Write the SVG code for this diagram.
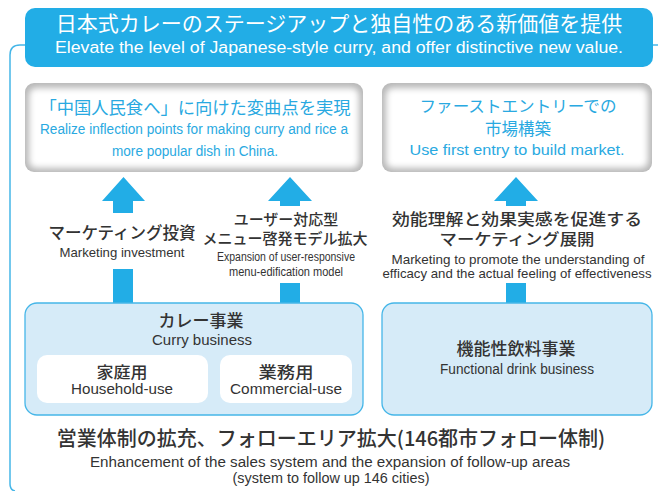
<svg xmlns="http://www.w3.org/2000/svg" width="658" height="491" viewBox="0 0 658 491">
<style>
.jp{font-family:"Noto Sans CJK JP","Noto Sans",sans-serif;}
.en{font-family:"Liberation Sans",Arial,sans-serif;}
.w{fill:#ffffff;}
.b{fill:#29a9e1;}
.d{fill:#333333;}
.m{font-weight:500;}
.arrow{fill:#22ade6;}
.biz{fill:#d6ebf8;stroke:#45b6e8;stroke-width:1.3;}
.sub{fill:#ffffff;}
.frame{fill:none;stroke:#45b6e8;stroke-width:1.5;}
</style>
<defs>
<filter id="soft" x="-5%" y="-10%" width="110%" height="120%">
<feGaussianBlur stdDeviation="3"/>
</filter>
</defs>
<rect width="658" height="491" fill="#ffffff"/>
<g id="connectors">
<path class="frame" d="M25,45 L20,45 Q10,45 10,55 L10,484 Q10,490 15,491"/>
<path class="frame" d="M653,45 L658,45"/>
<path class="arrow" d="M123.5,177 L145,201 L133,201 L133,213 L113,213 L113,201 L102,201 Z"/>
<rect class="arrow" x="113" y="269" width="20" height="35"/>
<path class="arrow" d="M290,177 L312,201 L300,201 L300,206 L280,206 L280,201 L268,201 Z"/>
<rect class="arrow" x="280" y="283" width="20" height="21"/>
<path class="arrow" d="M516,177 L538,201 L526,201 L526,206 L506,206 L506,201 L494,201 Z"/>
<rect class="arrow" x="506" y="283" width="20" height="21"/>
</g>
<g id="title">
<rect x="25" y="8" width="628" height="59" rx="10" fill="#22ade6"/>
<text class="jp w" x="339" y="31" font-size="21" text-anchor="middle">日本式カレーのステージアップと独自性のある新価値を提供</text>
<text class="en w" x="339" y="53" font-size="16" text-anchor="middle" textLength="568" lengthAdjust="spacingAndGlyphs">Elevate the level of Japanese-style curry, and offer distinctive new value.</text>
</g>
<g id="goal-china">
<rect x="25" y="83" width="338" height="89" rx="9" fill="#b8b8b8"/>
<rect x="29" y="88" width="330" height="80" rx="7" fill="#ffffff" filter="url(#soft)"/>
<text class="jp b" x="195" y="114" font-size="17.3" text-anchor="middle">「中国人民食へ」に向けた変曲点を実現</text>
<text class="en b" x="194" y="134" font-size="14" text-anchor="middle" textLength="308" lengthAdjust="spacingAndGlyphs">Realize inflection points for making curry and rice a</text>
<text class="en b" x="195" y="156" font-size="14" text-anchor="middle" textLength="166" lengthAdjust="spacingAndGlyphs">more popular dish in China.</text>
</g>
<g id="goal-market">
<rect x="382" y="83" width="270" height="89" rx="9" fill="#b8b8b8"/>
<rect x="386" y="88" width="262" height="80" rx="7" fill="#ffffff" filter="url(#soft)"/>
<text class="jp b" x="518" y="112" font-size="16" text-anchor="middle" textLength="197" lengthAdjust="spacingAndGlyphs">ファーストエントリーでの</text>
<text class="jp b" x="518" y="135" font-size="16.5" text-anchor="middle">市場構築</text>
<text class="en b" x="517" y="155" font-size="14" text-anchor="middle" textLength="215" lengthAdjust="spacingAndGlyphs">Use first entry to build market.</text>
</g>
<g id="label-marketing">
<text class="jp d m" x="122" y="239" font-size="16.5" text-anchor="middle">マーケティング投資</text>
<text class="en d" x="122" y="257" font-size="13" text-anchor="middle" textLength="125" lengthAdjust="spacingAndGlyphs">Marketing investment</text>
</g>
<g id="label-menu">
<text class="jp d m" x="286" y="225" font-size="15" text-anchor="middle">ユーザー対応型</text>
<text class="jp d m" x="285" y="244" font-size="15" text-anchor="middle">メニュー啓発モデル拡大</text>
<text class="en d" x="286" y="261" font-size="12" text-anchor="middle" textLength="138" lengthAdjust="spacingAndGlyphs">Expansion of user-responsive</text>
<text class="en d" x="286" y="276" font-size="12" text-anchor="middle" textLength="114" lengthAdjust="spacingAndGlyphs">menu-edification model</text>
</g>
<g id="label-efficacy">
<text class="jp d m" x="517" y="225" font-size="15.5" text-anchor="middle" textLength="250" lengthAdjust="spacingAndGlyphs">効能理解と効果実感を促進する</text>
<text class="jp d m" x="517" y="245" font-size="15.5" text-anchor="middle" textLength="155" lengthAdjust="spacingAndGlyphs">マーケティング展開</text>
<text class="en d" x="518" y="264" font-size="13" text-anchor="middle" textLength="253" lengthAdjust="spacingAndGlyphs">Marketing to promote the understanding of</text>
<text class="en d" x="517" y="278" font-size="13" text-anchor="middle" textLength="269" lengthAdjust="spacingAndGlyphs">efficacy and the actual feeling of effectiveness</text>
</g>
<g id="curry-business">
<rect class="biz" x="25" y="303" width="338" height="112" rx="12"/>
<text class="jp d m" x="201" y="327" font-size="17" text-anchor="middle">カレー事業</text>
<text class="en d" x="202" y="345" font-size="14" text-anchor="middle" textLength="100" lengthAdjust="spacingAndGlyphs">Curry business</text>
</g>
<g id="household">
<rect class="sub" x="37" y="355" width="171" height="48" rx="10"/>
<text class="jp d m" x="122" y="378" font-size="16" text-anchor="middle" textLength="51" lengthAdjust="spacingAndGlyphs">家庭用</text>
<text class="en d" x="122" y="394" font-size="14" text-anchor="middle" textLength="102" lengthAdjust="spacingAndGlyphs">Household-use</text>
</g>
<g id="commercial">
<rect class="sub" x="220" y="355" width="132" height="48" rx="10"/>
<text class="jp d m" x="286" y="378" font-size="16" text-anchor="middle" textLength="55" lengthAdjust="spacingAndGlyphs">業務用</text>
<text class="en d" x="286" y="394" font-size="14" text-anchor="middle" textLength="112" lengthAdjust="spacingAndGlyphs">Commercial-use</text>
</g>
<g id="functional-drink">
<rect class="biz" x="382" y="303" width="270" height="112" rx="12"/>
<text class="jp d m" x="516" y="355" font-size="17" text-anchor="middle">機能性飲料事業</text>
<text class="en d" x="517" y="374" font-size="14" text-anchor="middle" textLength="154" lengthAdjust="spacingAndGlyphs">Functional drink business</text>
</g>
<g id="sales-system">
<text class="jp d m" x="331" y="446" font-size="20" text-anchor="middle">営業体制の拡充、フォローエリア拡大(146都市フォロー体制)</text>
<text class="en d" x="330" y="467" font-size="14" text-anchor="middle" textLength="480" lengthAdjust="spacingAndGlyphs">Enhancement of the sales system and the expansion of follow-up areas</text>
<text class="en d" x="331" y="483" font-size="14" text-anchor="middle" textLength="197" lengthAdjust="spacingAndGlyphs">(system to follow up 146 cities)</text>
</g>
</svg>
